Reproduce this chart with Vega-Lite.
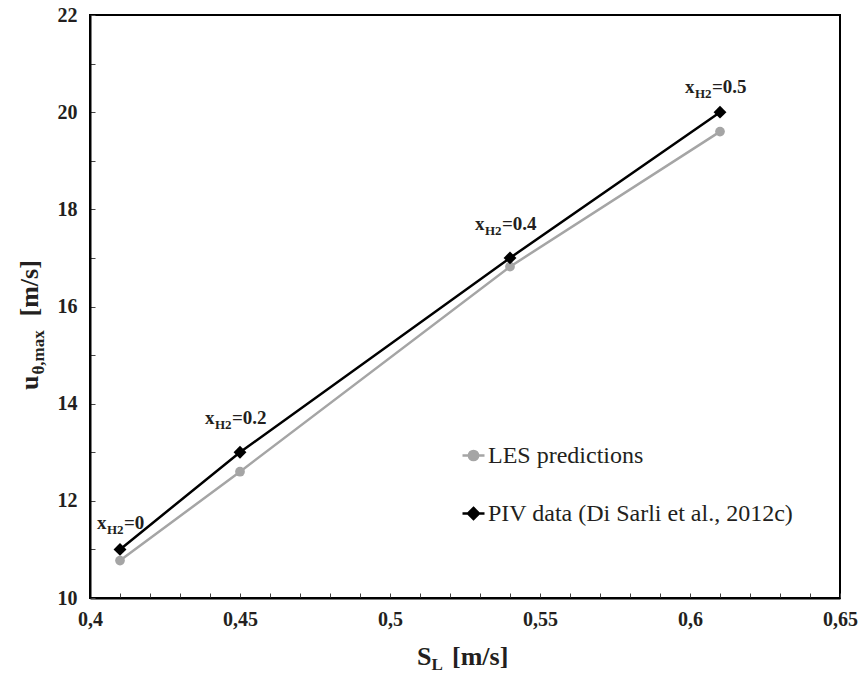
{
  "$schema": "https://vega.github.io/schema/vega-lite/v6.json",
  "width": 750,
  "height": 583,
  "autosize": {"type": "none"},
  "padding": {"left": 90, "top": 15, "right": 20, "bottom": 75},
  "background": "white",
  "config": {
    "view": {"stroke": "#000000", "strokeWidth": 2},
    "font": "Times New Roman",
    "axis": {
      "grid": false,
      "domainColor": "#000000",
      "domainWidth": 2,
      "tickColor": "#444444",
      "tickWidth": 1,
      "tickSize": -5,
      "labelFont": "Times New Roman",
      "labelFontSize": 20,
      "labelFontWeight": "bold",
      "labelColor": "#231f20",
      "labelOverlap": false,
      "labelSeparation": 0,
      "labelFlush": false
    },
    "text": {"font": "Times New Roman"}
  },
  "datasets": {
    "pts": [
      {"series": "LES predictions", "SL": 0.41, "u": 10.77},
      {"series": "LES predictions", "SL": 0.45, "u": 12.6},
      {"series": "LES predictions", "SL": 0.54, "u": 16.82},
      {"series": "LES predictions", "SL": 0.61, "u": 19.6},
      {"series": "PIV data (Di Sarli et al., 2012c)", "SL": 0.41, "u": 11.0, "lab": "=0"},
      {"series": "PIV data (Di Sarli et al., 2012c)", "SL": 0.45, "u": 13.0, "lab": "=0.2"},
      {"series": "PIV data (Di Sarli et al., 2012c)", "SL": 0.54, "u": 17.0, "lab": "=0.4"},
      {"series": "PIV data (Di Sarli et al., 2012c)", "SL": 0.61, "u": 20.0, "lab": "=0.5"}
    ]
  },
  "data": {"name": "pts"},
  "layer": [
    {
      "mark": {"type": "line", "strokeWidth": 2.5},
      "encoding": {
        "x": {
          "field": "SL", "type": "quantitative", "title": null,
          "scale": {"domain": [0.4, 0.65], "nice": false, "zero": false},
          "axis": {
            "title": null,
            "tickCount": 40,
            "labelOverlap": false,
            "labelSeparation": 0,
            "values": [0.4, 0.41, 0.42, 0.43, 0.44, 0.45, 0.46, 0.47, 0.48, 0.49, 0.5, 0.51, 0.52, 0.53, 0.54, 0.55, 0.56, 0.57, 0.58, 0.59, 0.6, 0.61, 0.62, 0.63, 0.64, 0.65],
            "labelExpr": "round(datum.value*100) % 5 == 0 ? replace(format(datum.value, '.2~f'), '.', ',') : ''",
            "labelPadding": 16
          }
        },
        "y": {
          "field": "u", "type": "quantitative", "title": null,
          "scale": {"domain": [10, 22], "nice": false, "zero": false},
          "axis": {
            "title": null,
            "tickCount": 40,
            "labelOverlap": false,
            "values": [10, 11, 12, 13, 14, 15, 16, 17, 18, 19, 20, 21, 22],
            "labelExpr": "round(datum.value) % 2 == 0 ? format(datum.value, 'd') : ''",
            "labelPadding": 18
          }
        },
        "color": {
          "field": "series", "type": "nominal",
          "scale": {"domain": ["LES predictions", "PIV data (Di Sarli et al., 2012c)"], "range": ["#a5a5a5", "#000000"]},
          "legend": {
            "orient": "none",
            "legendX": 371,
            "legendY": 428,
            "title": null,
            "padding": 0,
            "labelFont": "Times New Roman",
            "labelFontSize": 24,
            "labelColor": "#231f20",
            "labelOffset": 2,
            "labelLimit": 0,
            "rowPadding": 33,
            "symbolSize": 484,
            "encode": {
              "symbols": {
                "update": {
                  "shape": {"signal": "datum.value == 'LES predictions' ? 'M-1,0H1M0,-0.42A0.42,0.42,0,1,1,0,0.42A0.42,0.42,0,1,1,0,-0.42Z' : 'M-1,0H1M0,-0.5L0.5,0L0,0.5L-0.5,0Z'"},
                  "stroke": {"signal": "datum.value == 'LES predictions' ? '#a5a5a5' : '#000000'"},
                  "fill": {"signal": "datum.value == 'LES predictions' ? '#a5a5a5' : '#000000'"},
                  "strokeWidth": {"value": 2.5},
                  "opacity": {"value": 1},
                  "fillOpacity": {"value": 1},
                  "strokeOpacity": {"value": 1}
                }
              }
            }
          }
        }
      }
    },
    {
      "transform": [{"filter": "datum.series == 'LES predictions'"}],
      "mark": {"type": "point", "shape": "circle", "filled": true, "opacity": 1, "size": 95, "color": "#a5a5a5"},
      "encoding": {
        "x": {"field": "SL", "type": "quantitative", "title": null},
        "y": {"field": "u", "type": "quantitative", "title": null}
      }
    },
    {
      "transform": [{"filter": "datum.series != 'LES predictions'"}],
      "mark": {"type": "point", "shape": "diamond", "filled": true, "opacity": 1, "size": 165, "color": "#000000"},
      "encoding": {
        "x": {"field": "SL", "type": "quantitative", "title": null},
        "y": {"field": "u", "type": "quantitative", "title": null}
      }
    },
    {
      "transform": [{"filter": "datum.lab == '=0'"}],
      "mark": {"type": "text", "text": "x", "align": "left", "baseline": "alphabetic", "dx": -23, "dy": -20, "fontSize": 19, "fontWeight": "bold", "font": "Times New Roman", "color": "#231f20"},
      "encoding": {"x": {"field": "SL", "type": "quantitative"}, "y": {"field": "u", "type": "quantitative"}}
    },
    {
      "transform": [{"filter": "datum.lab == '=0'"}],
      "mark": {"type": "text", "text": "H2", "align": "left", "baseline": "alphabetic", "dx": -13, "dy": -15, "fontSize": 13, "fontWeight": "bold", "font": "Times New Roman", "color": "#231f20"},
      "encoding": {"x": {"field": "SL", "type": "quantitative"}, "y": {"field": "u", "type": "quantitative"}}
    },
    {
      "transform": [{"filter": "datum.lab == '=0'"}],
      "mark": {"type": "text", "align": "left", "baseline": "alphabetic", "dx": 4, "dy": -20, "fontSize": 19, "fontWeight": "bold", "font": "Times New Roman", "color": "#231f20"},
      "encoding": {"x": {"field": "SL", "type": "quantitative"}, "y": {"field": "u", "type": "quantitative"}, "text": {"field": "lab"}}
    },
    {
      "transform": [{"filter": "datum.lab == '=0.2' || datum.lab == '=0.4'"}],
      "mark": {"type": "text", "text": "x", "align": "left", "baseline": "alphabetic", "dx": -35, "dy": -28, "fontSize": 19, "fontWeight": "bold", "font": "Times New Roman", "color": "#231f20"},
      "encoding": {"x": {"field": "SL", "type": "quantitative"}, "y": {"field": "u", "type": "quantitative"}}
    },
    {
      "transform": [{"filter": "datum.lab == '=0.2' || datum.lab == '=0.4'"}],
      "mark": {"type": "text", "text": "H2", "align": "left", "baseline": "alphabetic", "dx": -25, "dy": -23, "fontSize": 13, "fontWeight": "bold", "font": "Times New Roman", "color": "#231f20"},
      "encoding": {"x": {"field": "SL", "type": "quantitative"}, "y": {"field": "u", "type": "quantitative"}}
    },
    {
      "transform": [{"filter": "datum.lab == '=0.2' || datum.lab == '=0.4'"}],
      "mark": {"type": "text", "align": "left", "baseline": "alphabetic", "dx": -8, "dy": -28, "fontSize": 19, "fontWeight": "bold", "font": "Times New Roman", "color": "#231f20"},
      "encoding": {"x": {"field": "SL", "type": "quantitative"}, "y": {"field": "u", "type": "quantitative"}, "text": {"field": "lab"}}
    },
    {
      "transform": [{"filter": "datum.lab == '=0.5'"}],
      "mark": {"type": "text", "text": "x", "align": "left", "baseline": "alphabetic", "dx": -35, "dy": -19, "fontSize": 19, "fontWeight": "bold", "font": "Times New Roman", "color": "#231f20"},
      "encoding": {"x": {"field": "SL", "type": "quantitative"}, "y": {"field": "u", "type": "quantitative"}}
    },
    {
      "transform": [{"filter": "datum.lab == '=0.5'"}],
      "mark": {"type": "text", "text": "H2", "align": "left", "baseline": "alphabetic", "dx": -25, "dy": -14, "fontSize": 13, "fontWeight": "bold", "font": "Times New Roman", "color": "#231f20"},
      "encoding": {"x": {"field": "SL", "type": "quantitative"}, "y": {"field": "u", "type": "quantitative"}}
    },
    {
      "transform": [{"filter": "datum.lab == '=0.5'"}],
      "mark": {"type": "text", "align": "left", "baseline": "alphabetic", "dx": -8, "dy": -19, "fontSize": 19, "fontWeight": "bold", "font": "Times New Roman", "color": "#231f20"},
      "encoding": {"x": {"field": "SL", "type": "quantitative"}, "y": {"field": "u", "type": "quantitative"}, "text": {"field": "lab"}}
    },
    {
      "data": {"values": [{"t": "S"}]},
      "mark": {"type": "text", "align": "left", "baseline": "alphabetic", "dx": -48, "dy": 67, "fontSize": 26, "fontWeight": "bold", "font": "Times New Roman", "color": "#231f20"},
      "encoding": {"x": {"datum": 0.525}, "y": {"datum": 10}, "text": {"field": "t"}}
    },
    {
      "data": {"values": [{"t": "L"}]},
      "mark": {"type": "text", "align": "left", "baseline": "alphabetic", "dx": -33.5, "dy": 72, "fontSize": 17, "fontWeight": "bold", "font": "Times New Roman", "color": "#231f20"},
      "encoding": {"x": {"datum": 0.525}, "y": {"datum": 10}, "text": {"field": "t"}}
    },
    {
      "data": {"values": [{"t": "[m/s]"}]},
      "mark": {"type": "text", "align": "left", "baseline": "alphabetic", "dx": -13, "dy": 67, "fontSize": 26, "fontWeight": "bold", "font": "Times New Roman", "color": "#231f20"},
      "encoding": {"x": {"datum": 0.525}, "y": {"datum": 10}, "text": {"field": "t"}}
    },
    {
      "data": {"values": [{"t": "u"}]},
      "mark": {"type": "text", "angle": 270, "align": "left", "baseline": "alphabetic", "dx": -83.5, "dy": -52, "fontSize": 26, "fontWeight": "bold", "font": "Times New Roman", "color": "#231f20"},
      "encoding": {"x": {"datum": 0.4}, "y": {"datum": 16}, "text": {"field": "t"}}
    },
    {
      "data": {"values": [{"t": "θ,max"}]},
      "mark": {"type": "text", "angle": 270, "align": "left", "baseline": "alphabetic", "dx": -68, "dy": -46, "fontSize": 17, "fontWeight": "bold", "font": "Times New Roman", "color": "#231f20"},
      "encoding": {"x": {"datum": 0.4}, "y": {"datum": 16}, "text": {"field": "t"}}
    },
    {
      "data": {"values": [{"t": "[m/s]"}]},
      "mark": {"type": "text", "angle": 270, "align": "left", "baseline": "alphabetic", "dx": -10, "dy": -52, "fontSize": 26, "fontWeight": "bold", "font": "Times New Roman", "color": "#231f20"},
      "encoding": {"x": {"datum": 0.4}, "y": {"datum": 16}, "text": {"field": "t"}}
    }
  ]
}
